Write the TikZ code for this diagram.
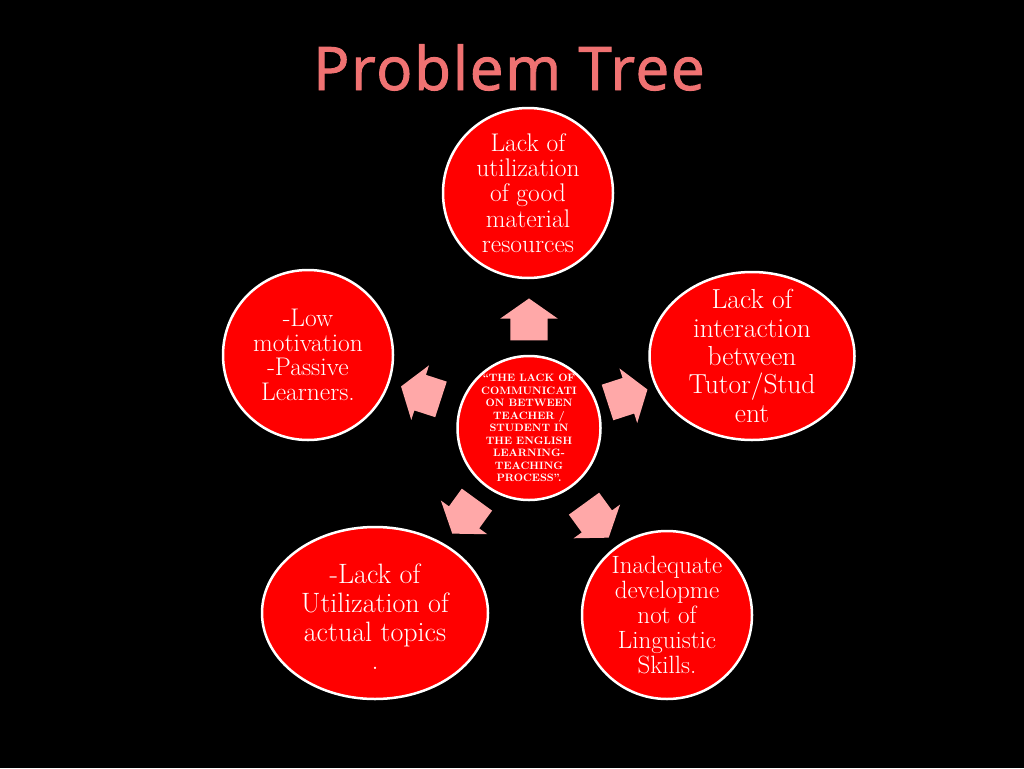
\documentclass[tikz,border=0pt]{standalone}
\usepackage{fontspec}
\usetikzlibrary{shapes.geometric,shapes.arrows,calc}
\newfontfamily\titlefont[LetterSpace=3]{Open Sans}
\definecolor{Blood}{HTML}{FF0000}
\definecolor{Blush}{HTML}{FFA8A8}
\definecolor{Salmon}{HTML}{F07272}

\begin{document}
\begin{tikzpicture}[x=1pt,y=-1pt,
    bubble/.style={ellipse,draw=white,line width=2.5pt,fill=Blood,inner sep=0pt},
    say/.style={text=white,align=center,inner sep=0pt},
    pointer/.style={single arrow,fill=Blush,inner xsep=0pt,inner ysep=18.5pt,minimum height=42pt,
      single arrow head extend=10pt,single arrow tip angle=110}]
    \fill[black] (0,0) rectangle (1024,768);
    \useasboundingbox (0,0) rectangle (1024,768);
    \node[text=Salmon,font=\titlefont\addfontfeature{FakeBold=1.6}\fontsize{60}{62}\selectfont,anchor=base] (title) at (509,90) {Problem Tree};
    \node[bubble,minimum width=143pt,minimum height=144pt] (core) at (529,428) {};
    \node[say,font=\bfseries\fontsize{10.7}{12.5}\selectfont] at (core) {``THE LACK OF\\COMMUNICATI\\ON BETWEEN\\TEACHER /\\STUDENT IN\\THE ENGLISH\\LEARNING-\\TEACHING\\PROCESS''.};
    \node[bubble,minimum width=170pt,minimum height=170pt] (res) at (528,193) {};
    \node[say,font=\fontsize{25.5}{25.3}\selectfont] at (res) {Lack of\\utilization\\of good\\material\\resources};
    \node[bubble,minimum width=205pt,minimum height=168pt] (inter) at (752,356) {};
    \node[say,font=\fontsize{27.5}{28.3}\selectfont] at (inter) {Lack of\\interaction\\between\\Tutor/Stud\\ent};
    \node[bubble,minimum width=170pt,minimum height=170pt] (motiv) at (308,355) {};
    \node[say,font=\fontsize{25.5}{24.7}\selectfont] at (motiv) {-Low\\motivation\\-Passive\\Learners.};
    \node[bubble,minimum width=226pt,minimum height=172pt] (topic) at (375,613) {};
    \node[say,font=\fontsize{28}{28.7}\selectfont] at ($(topic)+(0,4)$) {-Lack of\\Utilization of\\actual topics\\.};
    \node[bubble,minimum width=170pt,minimum height=168pt] (skill) at (667,615) {};
    \node[say,font=\fontsize{25}{25}\selectfont] at (skill) {Inadequate\\developme\\not of\\Linguistic\\Skills.};
    \foreach \ang/\dist in {90/102,162/107,18/97,234/103,306/108}
      \node[pointer,rotate=\ang] at ($(core)+(\ang:\dist pt)$) {};
  \end{tikzpicture}
\end{document}
